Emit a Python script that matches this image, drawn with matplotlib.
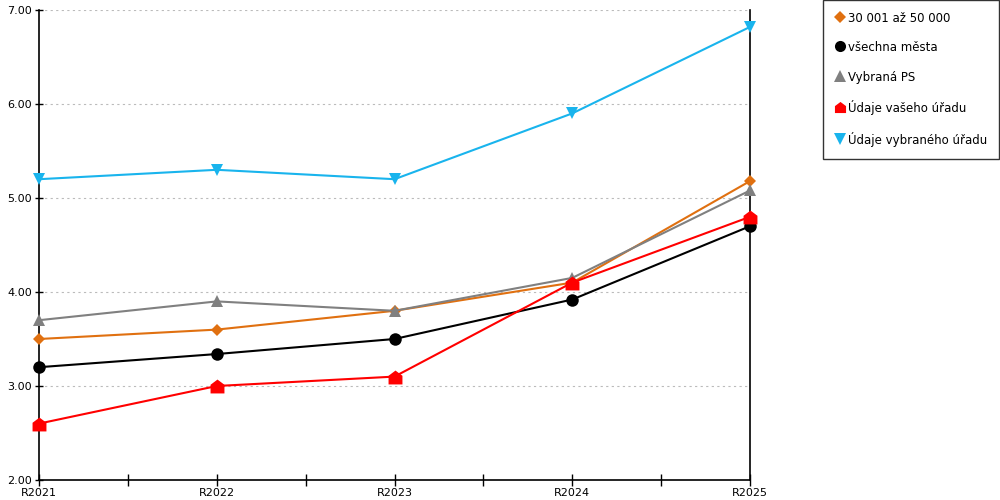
from matplotlib import pyplot as plt
from matplotlib.path import Path
from matplotlib.lines import Line2D

roky = ['R2021', 'R2022', 'R2023', 'R2024', 'R2025']

mesta_30_50 = [3.50, 3.60, 3.80, 4.10, 5.18]   # 30 001 až 50 000
vsechna = [3.20, 3.34, 3.50, 3.92, 4.70]       # všechna města
vybrana_ps = [3.70, 3.90, 3.80, 4.15, 5.08]    # Vybraná PS
vas_urad = [2.60, 3.00, 3.10, 4.10, 4.80]      # Údaje vašeho úřadu
vybrany_urad = [5.20, 5.30, 5.20, 5.90, 6.82]  # Údaje vybraného úřadu

y_ticks = [2, 3, 4, 5, 6, 7]

# marker ve tvaru domecku
domek = Path([(-1, -1), (1, -1), (1, 0.25), (0, 1), (-1, 0.25), (-1, -1)],
             [Path.MOVETO, Path.LINETO, Path.LINETO, Path.LINETO, Path.LINETO, Path.CLOSEPOLY])

serie = [
    (mesta_30_50, '#e07010', 'D', 6, '30 001 až 50 000'),
    (vsechna, '#000000', 'o', 9, 'všechna města'),
    (vybrana_ps, '#808080', '^', 9, 'Vybraná PS'),
    (vas_urad, '#ff0000', domek, 10, 'Údaje vašeho úřadu'),
    (vybrany_urad, '#19b4ed', 'v', 9, 'Údaje vybraného úřadu'),
]

fig = plt.figure(figsize=(10, 5), dpi=100)
ax = fig.add_axes([0.039, 0.04, 0.711, 0.94])

x = list(range(len(roky)))
handles = []
for hodnoty, barva, mk, ms, nazev in serie:
    ax.plot(x, hodnoty, color=barva, lw=1.5, marker=mk, markersize=ms,
            markeredgewidth=0, zorder=3, clip_on=False)
    handles.append(Line2D([], [], color=barva, marker=mk, linestyle='none',
                          markersize=min(ms, 8), markeredgewidth=0, label=nazev))

ax.set_xlim(0, len(roky) - 1)
ax.set_ylim(2, 7)
ax.set_xticks(x)
ax.set_xticklabels(roky, fontsize=8)
ax.set_xticks([i + 0.5 for i in range(len(roky) - 1)], minor=True)
ax.tick_params(axis='x', which='both', direction='inout', length=8, width=1, pad=2)
ax.set_yticks(y_ticks)
ax.set_yticklabels(['%.2f' % v for v in y_ticks], fontsize=8)
ax.tick_params(axis='y', direction='inout', length=6, width=1, pad=2)

ax.grid(axis='y', color='#bbbbbb', linestyle=(0, (2, 3)), linewidth=0.8)
ax.set_axisbelow(True)
ax.spines['top'].set_visible(False)
for s in ['left', 'right', 'bottom']:
    ax.spines[s].set_color('black')
    ax.spines[s].set_linewidth(1.2)

leg = fig.legend(handles=handles, loc='upper right', bbox_to_anchor=(0.999, 1.0),
                 frameon=True, fancybox=False, fontsize=8.5, handlelength=0.8,
                 handleheight=1.2, handletextpad=0.3, labelspacing=1.4,
                 borderpad=1.0, borderaxespad=0)
leg.get_frame().set_edgecolor('black')
leg.get_frame().set_linewidth(1)

plt.savefig('out.png', dpi=100)
